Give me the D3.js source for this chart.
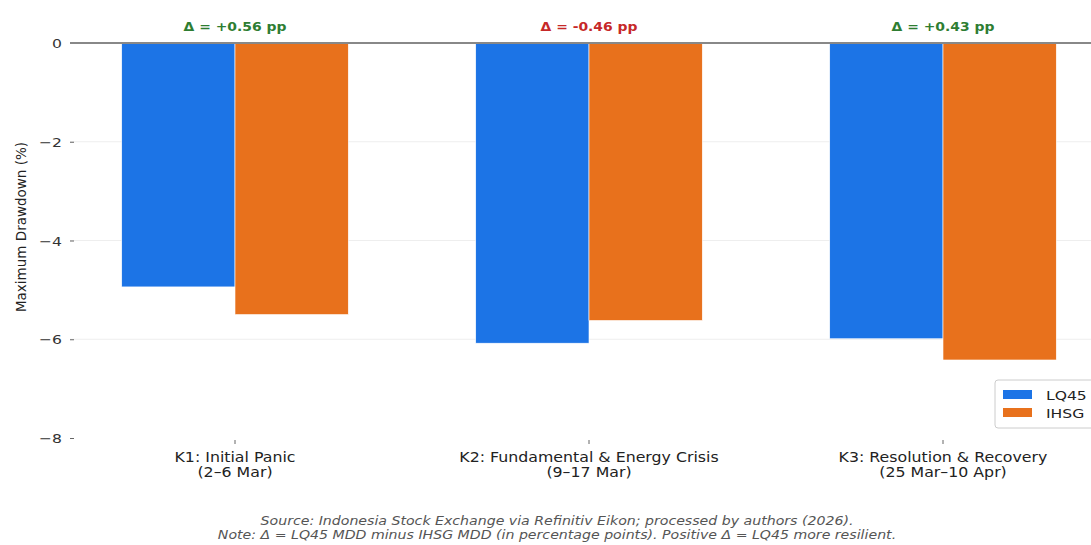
<!DOCTYPE html>
<html><head><meta charset="utf-8">
<script src="https://cdn.jsdelivr.net/npm/d3@7"></script>
<style>body{margin:0;background:#fff}svg{display:block;font-family:"DejaVu Sans",sans-serif}</style>
</head><body><svg id="c" width="1091" height="545"></svg>
<script>
const categories = ["K1: Initial Panic|(2–6 Mar)", "K2: Fundamental & Energy Crisis|(9–17 Mar)", "K3: Resolution & Recovery|(25 Mar–10 Apr)"];
const seriesNames = ["LQ45", "IHSG"];
const lq45 = [-4.94, -6.08, -5.99];
const ihsg = [-5.50, -5.62, -6.42];
const deltas = ["Δ = +0.56 pp", "Δ = -0.46 pp", "Δ = +0.43 pp"];
const yTicks = [0, -2, -4, -6, -8];
const notes = ["Source: Indonesia Stock Exchange via Refinitiv Eikon; processed by authors (2026).",
  "Note: Δ = LQ45 MDD minus IHSG MDD (in percentage points). Positive Δ = LQ45 more resilient."];
const colors = ["#1C74E6", "#E8711C"];

const svg = d3.select("#c");
const x = d3.scaleLinear().domain([0, 1]).range([235, 589]);
const y = d3.scaleLinear().domain([0, -8]).range([43, 438]);
const bw = x(0.32) - x(0);

function txt(g, tx, ty, s, size, sx, opts) {
  const t = g.append("text").attr("transform", `translate(${tx},${ty}) scale(${sx},1)`)
    .attr("font-size", size).text(s);
  Object.entries(opts || {}).forEach(([k, v]) => t.attr(k, v));
  return t;
}

// grid
svg.append("g").selectAll("line").data(yTicks.filter(d => d !== 0 && d !== -8)).join("line")
  .attr("x1", 70).attr("x2", 1091).attr("y1", d => y(d)).attr("y2", d => y(d))
  .attr("stroke", "#eeeeee").attr("stroke-width", 1);

// y axis
const ya = svg.append("g").attr("transform", "translate(74,0)")
  .call(d3.axisLeft(y).tickValues(yTicks).tickSize(4).tickFormat(""));
ya.select(".domain").remove();
ya.selectAll("line").attr("stroke", "#666");
yTicks.forEach(d => {
  txt(svg, 62, y(d) + 5, d === 0 ? "0" : "−" + Math.abs(d), 13, 1.2, {"text-anchor": "end", fill: "#333"});
});

// bars
const data = [];
categories.forEach((c, i) => { data.push({i, s: 0, v: lq45[i]}); data.push({i, s: 1, v: ihsg[i]}); });
svg.append("g").selectAll("rect").data(data).join("rect")
  .attr("x", d => d.s === 0 ? x(d.i) - bw : x(d.i))
  .attr("width", bw)
  .attr("y", y(0))
  .attr("height", d => y(d.v) - y(0))
  .attr("fill", d => colors[d.s])
  .attr("stroke", "#fff").attr("stroke-width", 0.6);

// zero line
svg.append("line").attr("x1", 70).attr("x2", 1091).attr("y1", y(0)).attr("y2", y(0))
  .attr("stroke", "#888").attr("stroke-width", 2);

// x axis ticks & labels
const xa = svg.append("g");
categories.forEach((c, i) => {
  xa.append("line").attr("x1", x(i)).attr("x2", x(i)).attr("y1", y(-8) + 2).attr("y2", y(-8) + 6).attr("stroke", "#666");
  const parts = c.split("|");
  parts.forEach((p, k) => {
    txt(xa, x(i), 462 + k * 15, p, 13.5, 1.17, {"text-anchor": "middle", fill: "#222"});
  });
  txt(svg, x(i), 31, deltas[i], 12, 1.16, {"text-anchor": "middle", "font-weight": "bold",
    fill: deltas[i].includes("+") ? "#2E7D32" : "#C62828"});
});

// y label
svg.append("text").attr("transform", "translate(26,227) rotate(-90)").attr("text-anchor", "middle")
  .attr("font-size", 13.5).attr("fill", "#222").text("Maximum Drawdown (%)");

// legend
const lg = svg.append("g").attr("transform", "translate(995,380)");
lg.append("rect").attr("width", 100).attr("height", 48).attr("rx", 3).attr("fill", "#fff").attr("stroke", "#ccc");
seriesNames.forEach((s, k) => {
  lg.append("rect").attr("x", 8).attr("y", 10 + k * 18).attr("width", 29).attr("height", 9).attr("fill", colors[k]);
  txt(lg, 51, 20 + k * 18, s, 13, 1.2, {fill: "#222"});
});

// notes
notes.forEach((n, k) => {
  txt(svg, 557, 525 + k * 14, n, 11.5, 1.23, {"text-anchor": "middle", "font-style": "italic", fill: "#555"});
});
</script></body></html>
